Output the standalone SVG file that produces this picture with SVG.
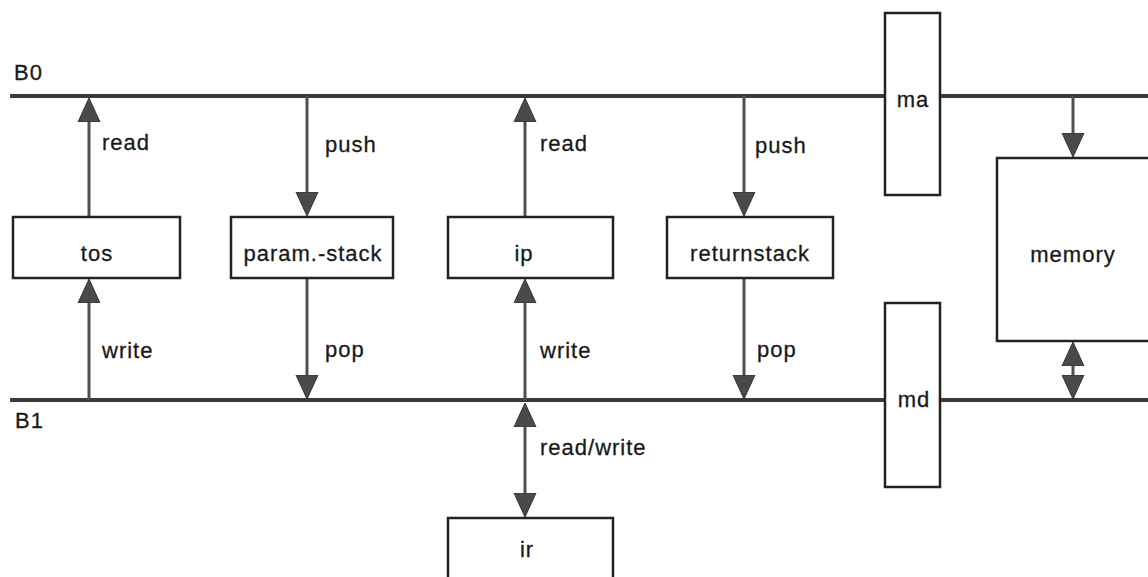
<svg xmlns="http://www.w3.org/2000/svg" width="1148" height="577" viewBox="0 0 1148 577">
<defs>
<style>
.bus{stroke:#3a3a3a;stroke-width:4;fill:none}
.shaft{stroke:#505050;stroke-width:3;fill:none}
.arr{marker-end:url(#ah)}
.dbl{marker-start:url(#ah);marker-end:url(#ah)}
.box{fill:#fff;stroke:#222;stroke-width:2.5}
text{font-family:"Liberation Sans",Arial,sans-serif;font-size:22px;fill:#1a1a1a;stroke:#1a1a1a;stroke-width:0.3;letter-spacing:1px}
.c{text-anchor:middle}
</style>
<marker id="ah" markerUnits="userSpaceOnUse" markerWidth="26" markerHeight="24" viewBox="0 -12 26 24" refX="0" refY="0" orient="auto-start-reverse">
<path d="M0,-11 L24,0 L0,11 Z" fill="#4a4a4a" stroke="#333" stroke-width="1"/>
</marker>
</defs>
<g id="buses">
<line class="bus" x1="10" y1="96" x2="1148" y2="96"/>
<line class="bus" x1="10" y1="400" x2="1148" y2="400"/>
<text x="14" y="80">B0</text>
<text x="15" y="428">B1</text>
</g>
<g id="connectors">
<line class="shaft arr" x1="89" y1="217" x2="89" y2="122"/>
<line class="shaft arr" x1="89" y1="400" x2="89" y2="303"/>
<line class="shaft arr" x1="307" y1="96" x2="307" y2="192"/>
<line class="shaft arr" x1="307" y1="278" x2="307" y2="375"/>
<line class="shaft arr" x1="525" y1="217" x2="525" y2="122"/>
<line class="shaft arr" x1="525" y1="400" x2="525" y2="303"/>
<line class="shaft dbl" x1="525" y1="427" x2="525" y2="493"/>
<line class="shaft arr" x1="744" y1="96" x2="744" y2="192"/>
<line class="shaft arr" x1="744" y1="278" x2="744" y2="375"/>
<line class="shaft arr" x1="1073" y1="96" x2="1073" y2="133"/>
<line class="shaft dbl" x1="1073" y1="366" x2="1073" y2="375"/>
<text x="102" y="150">read</text>
<text x="102" y="358">write</text>
<text x="325" y="152">push</text>
<text x="325" y="357">pop</text>
<text x="540" y="151">read</text>
<text x="540" y="358">write</text>
<text x="540" y="455">read/write</text>
<text x="755" y="153">push</text>
<text x="757" y="357">pop</text>
</g>
<g id="tos"><rect class="box" x="13" y="217" width="167" height="61"/><text class="c" x="97" y="261">tos</text></g>
<g id="param-stack"><rect class="box" x="231" y="217" width="162" height="61"/><text class="c" x="313" y="261">param.-stack</text></g>
<g id="ip"><rect class="box" x="448" y="217" width="165" height="61"/><text class="c" x="524" y="261">ip</text></g>
<g id="returnstack"><rect class="box" x="667" y="217" width="166" height="61"/><text class="c" x="750" y="261">returnstack</text></g>
<g id="ir"><rect class="box" x="448" y="518" width="165" height="70"/><text class="c" x="527" y="557">ir</text></g>
<g id="ma"><rect class="box" x="885" y="13" width="55" height="182"/><text class="c" x="913" y="107">ma</text></g>
<g id="md"><rect class="box" x="885" y="303" width="55" height="184"/><text class="c" x="914" y="407">md</text></g>
<g id="memory"><rect class="box" x="997" y="158" width="170" height="183"/><text class="c" x="1073" y="262">memory</text></g>
</svg>
